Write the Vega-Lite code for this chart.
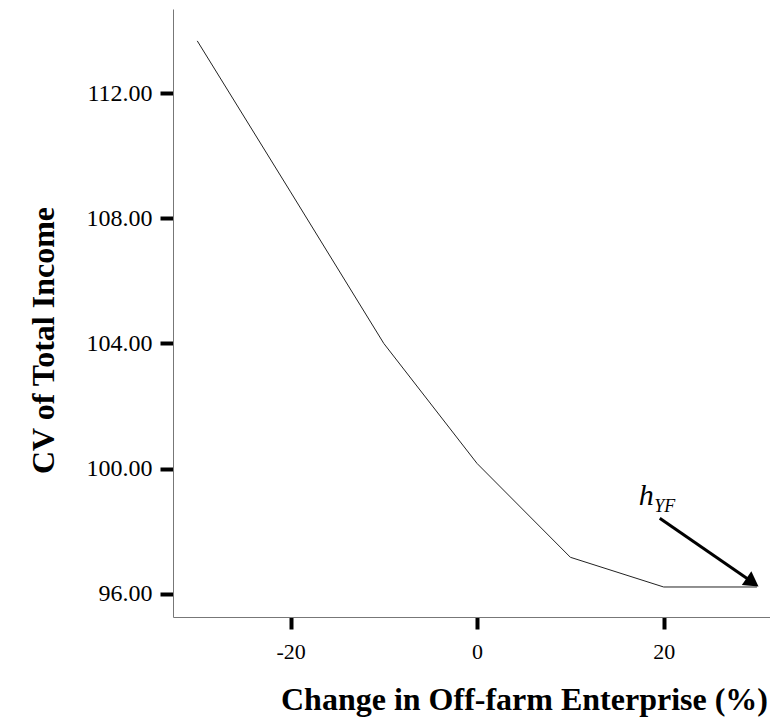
{
  "$schema": "https://vega.github.io/schema/vega-lite/v6.json",
  "width": 597,
  "height": 608,
  "autosize": {"type": "none"},
  "padding": {"left": 173, "top": 9, "right": 0, "bottom": 100},
  "background": "white",
  "config": {
    "view": {"stroke": null},
    "font": "Liberation Serif"
  },
  "datasets": {
    "cv": [
      {"change": -30, "cv": 113.68},
      {"change": -20, "cv": 108.85},
      {"change": -10, "cv": 104.0},
      {"change": 0, "cv": 100.16},
      {"change": 10, "cv": 97.16},
      {"change": 20, "cv": 96.21},
      {"change": 30, "cv": 96.21}
    ],
    "arrow": [
      {"x": 19.58, "y": 98.41, "x2": 29.53, "y2": 96.36}
    ],
    "label": [
      {"x": 17.34, "y": 98.83, "sub_x": 19.0, "sub_y": 98.62}
    ]
  },
  "layer": [
    {
      "data": {"name": "cv"},
      "mark": {"type": "line", "color": "#222222", "strokeWidth": 1, "clip": false},
      "encoding": {
        "x": {
          "field": "change",
          "type": "quantitative",
          "scale": {"domain": [-32.6, 31.4], "nice": false, "zero": false},
          "axis": {
            "values": [-20, 0, 20],
            "labelExpr": "toString(datum.value)",
            "grid": false,
            "domainColor": "#777777",
            "domainWidth": 1,
            "tickColor": "black",
            "tickWidth": 4,
            "tickSize": 12,
            "labelFont": "Liberation Serif",
            "labelFontSize": 22,
            "labelColor": "black",
            "labelPadding": 12,
            "title": "Change in Off-farm Enterprise (%)",
            "titleFont": "Liberation Serif",
            "titleFontSize": 32,
            "titleFontWeight": "bold",
            "titleColor": "black",
            "titleX": 351,
            "titleY": 92,
            "titleBaseline": "alphabetic",
            "titleAnchor": null,
            "titleAlign": "center"
          }
        },
        "y": {
          "field": "cv",
          "type": "quantitative",
          "scale": {"domain": [95.25, 114.7], "nice": false, "zero": false},
          "axis": {
            "values": [96, 100, 104, 108, 112],
            "format": ".2f",
            "grid": false,
            "domainColor": "#777777",
            "domainWidth": 1,
            "tickColor": "black",
            "tickWidth": 4,
            "tickSize": 13,
            "labelFont": "Liberation Serif",
            "labelFontSize": 24,
            "labelColor": "black",
            "labelPadding": 8,
            "title": "CV of Total Income",
            "titleFont": "Liberation Serif",
            "titleFontSize": 32,
            "titleFontWeight": "bold",
            "titleColor": "black",
            "titleX": -120,
            "titleY": 331,
            "titleAngle": -90,
            "titleBaseline": "alphabetic",
            "titleAnchor": null,
            "titleAlign": "center"
          }
        }
      }
    },
    {
      "data": {"name": "arrow"},
      "mark": {"type": "rule", "color": "black", "strokeWidth": 3},
      "encoding": {
        "x": {"field": "x", "type": "quantitative"},
        "y": {"field": "y", "type": "quantitative"},
        "x2": {"field": "x2"},
        "y2": {"field": "y2"}
      }
    },
    {
      "data": {"name": "arrow"},
      "mark": {"type": "point", "shape": "triangle-right", "filled": true, "color": "black", "opacity": 1, "size": 280, "angle": 34.6},
      "encoding": {
        "x": {"field": "x2", "type": "quantitative"},
        "y": {"field": "y2", "type": "quantitative"}
      }
    },
    {
      "data": {"name": "label"},
      "mark": {"type": "text", "text": "h", "font": "Liberation Serif", "fontStyle": "italic", "fontSize": 30, "align": "left", "baseline": "alphabetic", "color": "black"},
      "encoding": {
        "x": {"field": "x", "type": "quantitative"},
        "y": {"field": "y", "type": "quantitative"}
      }
    },
    {
      "data": {"name": "label"},
      "mark": {"type": "text", "text": "YF", "font": "Liberation Serif", "fontStyle": "italic", "fontSize": 18, "align": "left", "baseline": "alphabetic", "color": "black"},
      "encoding": {
        "x": {"field": "sub_x", "type": "quantitative"},
        "y": {"field": "sub_y", "type": "quantitative"}
      }
    }
  ]
}
